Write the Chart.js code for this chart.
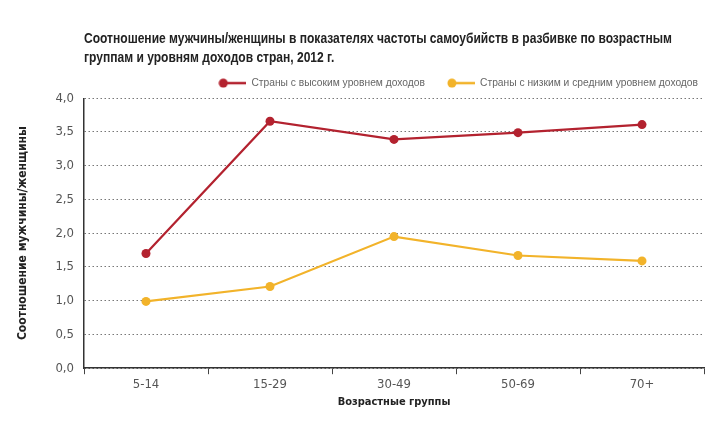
<!DOCTYPE html>
<html>
<head>
<meta charset="utf-8">
<script src="https://cdn.jsdelivr.net/npm/chart.js"></script>
<style>
  body { margin: 0; background: #fff; }
  #wrap { position: relative; width: 720px; height: 432px; }
  #title {
    position: absolute; left: 84px; top: 29px;
    font: bold 14px "Liberation Sans", Arial, sans-serif;
    line-height: 19px; color: #222; white-space: nowrap;
    transform: scaleX(0.86); transform-origin: left top;
  }
</style>
</head>
<body>
<div id="wrap">
  <canvas id="myChart" width="720" height="432"></canvas>
  <div id="title">Соотношение мужчины/женщины в показателях частоты самоубийств в разбивке по возрастным<br>группам и уровням доходов стран, 2012 г.</div>
</div>

<script>
// data
const ageGroups = ["5-14", "15-29", "30-49", "50-69", "70+"]
const highIncome = [1.70, 3.66, 3.39, 3.49, 3.61]
const lowMidIncome = [0.99, 1.21, 1.95, 1.67, 1.59]
const seriesNames = ["Страны с высоким уровнем доходов", "Страны с низким и средним уровнем доходов"]

const red = "#b3222f"
const yellow = "#f2b32a"
const narrow = "'Liberation Sans Narrow', 'DejaVu Sans Condensed', sans-serif"

// legend marker: short line with a dot on the left end
function marker(color) {
  const c = document.createElement("canvas")
  c.width = 28; c.height = 10
  const g = c.getContext("2d")
  g.strokeStyle = color; g.lineWidth = 2.5
  g.beginPath(); g.moveTo(5, 5); g.lineTo(28, 5); g.stroke()
  g.fillStyle = color
  g.beginPath(); g.arc(5, 5, 4.5, 0, Math.PI * 2); g.fill()
  return c
}

const ctx = document.getElementById("myChart")

new Chart(ctx, {
  type: "line",
  data: {
    labels: ageGroups,
    datasets: [
      { label: seriesNames[0], data: highIncome, borderColor: red, backgroundColor: red,
        borderWidth: 2.2, pointRadius: 4.5, pointBorderWidth: 0, tension: 0 },
      { label: seriesNames[1], data: lowMidIncome, borderColor: yellow, backgroundColor: yellow,
        borderWidth: 2.2, pointRadius: 4.5, pointBorderWidth: 0, tension: 0 }
    ]
  },
  options: {
    responsive: false,
    animation: false,
    devicePixelRatio: 1,
    layout: { padding: { top: 56, right: 0, bottom: 19, left: 0 } },
    plugins: {
      tooltip: { enabled: false },
      legend: {
        position: "top",
        align: "end",
        labels: {
          usePointStyle: true,
          pointStyleWidth: 28,
          padding: 22,
          color: "#666",
          font: { family: "'Liberation Sans', Arial, sans-serif", size: 10.25 },
          generateLabels: (chart) => chart.data.datasets.map((ds, i) => ({
            text: ds.label,
            pointStyle: marker(ds.borderColor),
            fillStyle: ds.borderColor,
            strokeStyle: ds.borderColor,
            lineWidth: 0,
            fontColor: "#666",
            datasetIndex: i
          }))
        }
      }
    },
    scales: {
      x: {
        offset: true,
        grid: { display: true, offset: true, drawOnChartArea: false, drawTicks: true, tickLength: 6, color: "#444" },
        border: { display: true, color: "#333", width: 1.5 },
        ticks: { color: "#555", padding: 3, font: { family: narrow, size: 13 } },
        title: { display: true, text: "Возрастные группы", color: "#222", padding: { top: 0 },
                 font: { family: narrow, size: 11, weight: "bold" } }
      },
      y: {
        min: 0,
        max: 4,
        afterFit: (s) => { s.width = 84 },
        ticks: {
          stepSize: 0.5, color: "#555", padding: 10,
          font: { family: narrow, size: 13 },
          callback: (v) => v.toFixed(1).replace(".", ",")
        },
        grid: { color: "#777", drawTicks: false },
        border: { display: true, color: "#333", width: 1.5, dash: [1.5, 2.5] },
        title: { display: true, text: "Соотношение мужчины/женщины", color: "#222", padding: { top: 16 },
                 font: { family: narrow, size: 12, weight: "bold" } }
      },
      // empty right-hand axis only to keep the plot's right edge at the reference position
      yRight: {
        position: "right",
        display: true,
        afterFit: (s) => { s.width = 16 },
        grid: { display: false },
        border: { display: false },
        ticks: { display: false }
      }
    }
  }
})
</script>
</body>
</html>
